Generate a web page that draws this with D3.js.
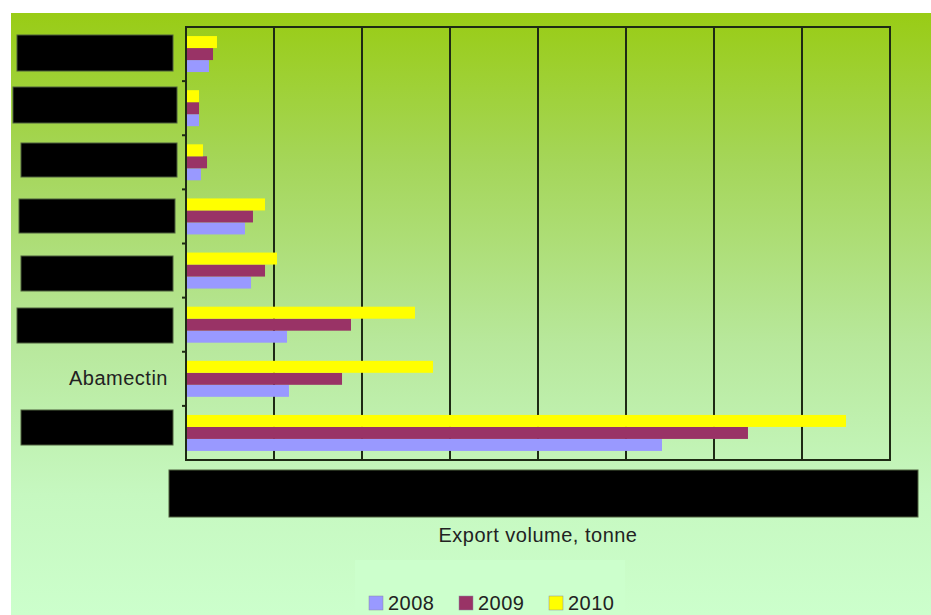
<!DOCTYPE html>
<html>
<head>
<meta charset="utf-8">
<script src="https://cdn.jsdelivr.net/npm/d3@7"></script>
<style>
  body { margin: 0; background: #fff; }
  svg { display: block; font-family: "Liberation Sans", Arial, sans-serif; }
</style>
</head>
<body>
<svg id="chart" width="931" height="615"></svg>
<script>
// chart data
const categories = ["Category 1", "Category 2", "Category 3", "Category 4",
                    "Category 5", "Category 6", "Abamectin", "Category 8"];
const years = ["2008", "2009", "2010"];
const v2008 = [261, 148, 170, 670, 739, 1148, 1170, 5409];
const v2009 = [307, 148, 239, 761, 898, 1875, 1773, 6386];
const v2010 = [352, 148, 193, 898, 1034, 2602, 2807, 7500];
const xTicks = [0, 1000, 2000, 3000, 4000, 5000, 6000, 7000, 8000];
const colors = { "2008": "#9999ff", "2009": "#993366", "2010": "#ffff00" };

// redacted label boxes [x0, y0, x1, y1]
const hidden = [
  [17, 35, 173, 71], [13, 87, 177, 123], [21, 143, 177, 177], [19, 199, 175, 233],
  [21, 256, 173, 291], [17, 308, 173, 343], [21, 410, 173, 445], [169, 470, 918, 517]
];

const svg = d3.select("#chart");
const pLeft = 186, pRight = 890, pTop = 27, pBottom = 460;

// background gradient
const defs = svg.append("defs");
const grad = defs.append("linearGradient").attr("id", "bg")
  .attr("x1", 0).attr("y1", 0).attr("x2", 0).attr("y2", 1);
grad.append("stop").attr("offset", "0%").attr("stop-color", "#99cc15");
grad.append("stop").attr("offset", "25%").attr("stop-color", "#a5d65a");
grad.append("stop").attr("offset", "55%").attr("stop-color", "#b8e89c");
grad.append("stop").attr("offset", "80%").attr("stop-color", "#c6f8c0");
grad.append("stop").attr("offset", "100%").attr("stop-color", "#ccffcc");
svg.append("rect").attr("x", 11).attr("y", 13).attr("width", 920).attr("height", 602)
  .attr("fill", "url(#bg)");

const x = d3.scaleLinear().domain([0, 8000]).range([pLeft, pRight]);
const y0 = d3.scaleBand().domain(categories).range([pTop, pBottom]);
const step = y0.bandwidth();
const y1 = d3.scaleBand().domain(["2010", "2009", "2008"])
  .range([(step - 36) / 2, (step + 36) / 2]);

const rows = categories.map((c, i) => ({
  cat: c, vals: [
    { year: "2008", v: v2008[i] },
    { year: "2009", v: v2009[i] },
    { year: "2010", v: v2010[i] }
  ]
}));

// gridlines
svg.append("g").selectAll("line").data(xTicks.slice(1, -1)).enter().append("line")
  .attr("x1", d => x(d)).attr("x2", d => x(d))
  .attr("y1", pTop).attr("y2", pBottom)
  .attr("stroke", "#1e2a14").attr("stroke-width", 2);

// bars
const grp = svg.append("g").selectAll("g").data(rows).enter().append("g")
  .attr("transform", d => `translate(0,${y0(d.cat)})`);
grp.selectAll("rect").data(d => d.vals).enter().append("rect")
  .attr("x", x(0) + 1)
  .attr("y", d => y1(d.year))
  .attr("width", d => x(d.v) - x(0) - 1)
  .attr("height", y1.bandwidth())
  .attr("fill", d => colors[d.year]);

// plot border
svg.append("rect").attr("x", pLeft).attr("y", pTop)
  .attr("width", pRight - pLeft).attr("height", pBottom - pTop)
  .attr("fill", "none").attr("stroke", "#1e2a14").attr("stroke-width", 2);

// y axis
const yAxis = d3.axisLeft(y0).tickSizeInner(0).tickSizeOuter(0).tickPadding(18);
const ya = svg.append("g").attr("transform", `translate(${pLeft},0)`).call(yAxis);
ya.select(".domain").remove();
ya.selectAll("text").attr("font-size", 20).attr("letter-spacing", "0.5px")
  .attr("fill", "#222").attr("font-family", "Liberation Sans, Arial, sans-serif");
// small tick marks at band boundaries
svg.append("g").selectAll("line").data(categories.slice(1)).enter().append("line")
  .attr("x1", pLeft - 4).attr("x2", pLeft)
  .attr("y1", d => y0(d)).attr("y2", d => y0(d))
  .attr("stroke", "#1e2a14").attr("stroke-width", 2);

// x axis labels
const xAxis = d3.axisBottom(x).tickValues(xTicks).tickSize(0).tickPadding(20);
const xa = svg.append("g").attr("transform", `translate(0,${pBottom})`).call(xAxis);
xa.select(".domain").remove();
xa.selectAll("text").attr("font-size", 20).attr("fill", "#222");

// redaction boxes
svg.append("g").selectAll("rect").data(hidden).enter().append("rect")
  .attr("x", d => d[0]).attr("y", d => d[1])
  .attr("width", d => d[2] - d[0]).attr("height", d => d[3] - d[1])
  .attr("fill", "#000").attr("stroke", "#4d5e3c").attr("stroke-width", 1);

// axis title
svg.append("text").attr("x", (pLeft + pRight) / 2).attr("y", 542)
  .attr("text-anchor", "middle").attr("font-size", 20).attr("letter-spacing", "0.5px")
  .attr("fill", "#222").text("Export volume, tonne");

// legend
svg.append("rect").attr("x", 355).attr("y", 560).attr("width", 270).attr("height", 55)
  .attr("fill", "#ccffcc");
const lg = svg.append("g").selectAll("g").data(years).enter().append("g")
  .attr("transform", (d, i) => `translate(${369 + i * 90},596)`);
lg.append("rect").attr("width", 14).attr("height", 14)
  .attr("fill", d => colors[d]).attr("stroke", "#8a8aa0").attr("stroke-width", 0.5);
lg.append("text").attr("x", 19).attr("y", 14).attr("font-size", 20)
  .attr("letter-spacing", "0.5px").attr("fill", "#222").text(d => d);
</script>
</body>
</html>
